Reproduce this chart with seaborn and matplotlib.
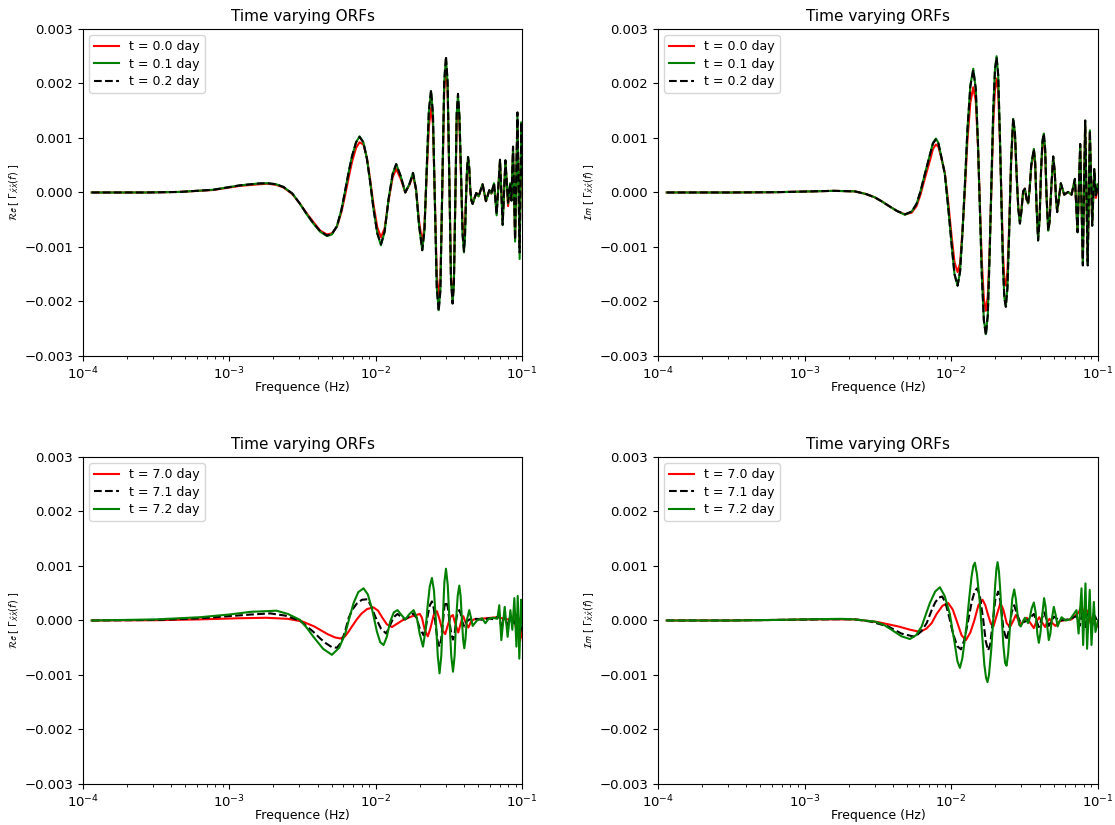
import numpy as np
import matplotlib
matplotlib.use("Agg")
import matplotlib.pyplot as plt
import seaborn as sns

# ---------------- data (log10 frequency, value in units of 1e-3) ----------------
# Top-left: Re, t = 0.0 / 0.1 / 0.2 day (shared frequency grid)
TL_LOGF = [-3.94, -3.56, -3.34, -3.11, -2.93, -2.80, -2.74, -2.68, -2.63, -2.57,
           -2.52, -2.47, -2.43, -2.38, -2.334, -2.30, -2.266, -2.235, -2.209, -2.185,
           -2.163, -2.135, -2.111, -2.085, -2.061, -2.04, -2.016, -1.99, -1.965, -1.94,
           -1.913, -1.885, -1.861, -1.83, -1.799, -1.77, -1.746, -1.725, -1.705, -1.683,
           -1.668, -1.653, -1.638, -1.623, -1.610, -1.597, -1.584, -1.571, -1.559, -1.546,
           -1.533, -1.521, -1.510, -1.498, -1.487, -1.476, -1.467, -1.457, -1.448, -1.439,
           -1.429, -1.418, -1.408, -1.398, -1.391, -1.384, -1.377, -1.370, -1.362, -1.355,
           -1.347, -1.339, -1.314, -1.298, -1.271, -1.248, -1.225, -1.211, -1.193, -1.175,
           -1.152, -1.134, -1.115, -1.097, -1.083, -1.074, -1.063, -1.049, -1.033, -1.018,
           -1.006, -1.0]
TL_T02 = [0.0, 0.0, 0.01, 0.05, 0.13, 0.165, 0.17, 0.15, 0.10, -0.02,
          -0.20, -0.40, -0.55, -0.71, -0.79, -0.76, -0.62, -0.32, 0.04, 0.38,
          0.66, 0.92, 1.02, 0.92, 0.62, 0.22, -0.30, -0.75, -0.95, -0.72,
          -0.12, 0.34, 0.52, 0.30, 0.0, 0.16, 0.36, 0.05, -0.60, -1.06,
          -0.70, 0.40, 1.50, 1.88, 1.45, -0.15, -1.75, -2.18, -1.80, 0.15,
          2.05, 2.50, 2.05, 0.25, -1.60, -2.04, -1.70, -0.10, 1.45, 1.81,
          1.40, 0.35, -0.75, -1.08, -0.80, -0.10, 0.45, 0.65, 0.45, 0.05,
          -0.15, -0.21, -0.01, -0.07, 0.15, -0.16, 0.04, -0.02, 0.17, -0.40,
          0.60, -0.59, 0.59, -0.18, 0.17, -0.15, 0.84, -0.87, 1.47, -1.10,
          1.29, 0.30]
TL_T01 = [0.0, 0.0, 0.01, 0.05, 0.13, 0.165, 0.17, 0.15, 0.10, -0.02,
          -0.20, -0.41, -0.56, -0.72, -0.80, -0.77, -0.62, -0.32, 0.04, 0.38,
          0.66, 0.92, 1.03, 0.92, 0.62, 0.22, -0.30, -0.75, -0.97, -0.72,
          -0.12, 0.34, 0.52, 0.30, 0.0, 0.16, 0.36, 0.05, -0.60, -1.06,
          -0.70, 0.40, 1.48, 1.86, 1.43, -0.15, -1.73, -2.16, -1.78, 0.15,
          2.02, 2.46, 2.02, 0.25, -1.58, -2.02, -1.70, -0.10, 1.43, 1.78,
          1.40, 0.35, -0.77, -1.10, -0.80, -0.10, 0.45, 0.65, 0.45, 0.05,
          -0.15, -0.21, -0.01, -0.07, 0.15, -0.16, 0.04, -0.02, 0.17, -0.42,
          0.60, -0.60, 0.59, -0.20, 0.17, -0.15, 0.84, -0.90, 1.42, -1.22,
          1.29, 0.30]
TL_T00 = [0.0, 0.0, 0.01, 0.045, 0.12, 0.15, 0.16, 0.14, 0.09, -0.03,
          -0.20, -0.39, -0.53, -0.70, -0.77, -0.75, -0.63, -0.36, -0.04, 0.28,
          0.56, 0.82, 0.92, 0.88, 0.64, 0.26, -0.22, -0.64, -0.82, -0.66,
          -0.15, 0.28, 0.43, 0.25, 0.0, 0.14, 0.32, 0.05, -0.52, -0.92,
          -0.62, 0.30, 1.20, 1.55, 1.25, -0.10, -1.50, -1.90, -1.60, 0.05,
          1.85, 2.30, 1.90, 0.25, -1.50, -1.95, -1.62, -0.12, 1.30, 1.65,
          1.25, 0.25, -0.55, -0.78, -0.62, -0.10, 0.40, 0.60, 0.42, 0.05,
          -0.15, -0.20, -0.01, -0.07, 0.15, -0.16, 0.04, -0.02, 0.15, -0.35,
          0.55, -0.50, 0.55, -0.25, 0.10, -0.10, 0.75, -0.80, 1.30, -1.00,
          1.10, 0.25]

# Top-right: Im, t = 0.0 / 0.1 / 0.2 day (shared frequency grid)
TR_LOGF = [-3.94, -3.5, -3.2, -2.95, -2.80, -2.657, -2.58, -2.521, -2.47, -2.430,
           -2.37, -2.316, -2.27, -2.237, -2.21, -2.180, -2.14, -2.125, -2.105, -2.088,
           -2.070, -2.044, -2.02, -1.998, -1.978, -1.957, -1.940, -1.924, -1.907, -1.890,
           -1.870, -1.850, -1.833, -1.818, -1.805, -1.792, -1.778, -1.764, -1.751, -1.738,
           -1.725, -1.714, -1.702, -1.691, -1.680, -1.668, -1.657, -1.647, -1.638, -1.628,
           -1.617, -1.605, -1.592, -1.578, -1.566, -1.554, -1.543, -1.532, -1.522, -1.510,
           -1.498, -1.487, -1.476, -1.466, -1.455, -1.437, -1.428, -1.418, -1.408, -1.398,
           -1.388, -1.378, -1.369, -1.360, -1.350, -1.339, -1.330, -1.318, -1.305, -1.295,
           -1.286, -1.278, -1.268, -1.253, -1.230, -1.203, -1.180, -1.157, -1.139, -1.121,
           -1.103, -1.087, -1.070, -1.055, -1.039, -1.025, -1.014, -1.0]
TR_T02 = [0.0, 0.0, 0.005, 0.02, 0.03, 0.02, -0.03, -0.09, -0.17, -0.24,
          -0.34, -0.40, -0.35, -0.21, 0.02, 0.34, 0.75, 0.90, 0.97, 0.90,
          0.68, 0.34, -0.30, -0.95, -1.50, -1.71, -1.45, -0.75, 0.15, 1.15,
          1.95, 2.25, 1.90, 0.90, -0.30, -1.50, -2.35, -2.62, -2.25, -1.10,
          0.34, 1.50, 2.25, 2.48, 2.15, 1.00, -0.30, -1.40, -1.95, -2.10,
          -1.75, -0.70, 0.60, 1.37, 1.10, 0.30, -0.30, -0.57, -0.35, 0.02,
          0.07, -0.12, -0.20, 0.05, 0.50, 0.80, 0.55, -0.30, -0.88, -0.50,
          0.40, 0.95, 1.08, 0.80, -0.10, -0.70, -0.55, 0.10, 0.66, 0.40,
          -0.10, -0.36, -0.15, 0.17, -0.04, 0.01, -0.04, 0.25, -0.73, 0.89,
          -1.34, 1.32, -1.34, 1.14, -0.61, 0.43, -0.05, 0.15]
TR_T01 = [0.0, 0.0, 0.005, 0.02, 0.03, 0.02, -0.03, -0.09, -0.17, -0.24,
          -0.34, -0.41, -0.35, -0.21, 0.02, 0.34, 0.75, 0.91, 0.99, 0.91,
          0.68, 0.34, -0.30, -0.95, -1.50, -1.71, -1.45, -0.75, 0.15, 1.15,
          1.96, 2.27, 1.90, 0.90, -0.30, -1.50, -2.33, -2.60, -2.25, -1.10,
          0.34, 1.50, 2.27, 2.50, 2.15, 1.00, -0.30, -1.40, -1.93, -2.08,
          -1.75, -0.70, 0.60, 1.35, 1.10, 0.30, -0.30, -0.57, -0.35, 0.02,
          0.07, -0.12, -0.20, 0.05, 0.50, 0.80, 0.55, -0.30, -0.88, -0.50,
          0.40, 0.95, 1.08, 0.80, -0.10, -0.70, -0.55, 0.10, 0.66, 0.40,
          -0.10, -0.36, -0.15, 0.17, -0.04, 0.01, -0.04, 0.25, -0.73, 0.89,
          -1.32, 1.32, -1.32, 1.14, -0.61, 0.43, -0.05, 0.15]
TR_T00 = [0.0, 0.0, 0.005, 0.02, 0.03, 0.02, -0.03, -0.09, -0.17, -0.24,
          -0.34, -0.40, -0.37, -0.25, -0.04, 0.26, 0.64, 0.80, 0.88, 0.84,
          0.66, 0.36, -0.20, -0.80, -1.28, -1.46, -1.30, -0.72, 0.05, 0.95,
          1.65, 1.93, 1.68, 0.85, -0.20, -1.25, -1.95, -2.17, -1.90, -1.00,
          0.20, 1.25, 1.90, 2.09, 1.85, 0.90, -0.15, -1.15, -1.60, -1.71,
          -1.45, -0.60, 0.55, 1.30, 1.05, 0.30, -0.28, -0.52, -0.33, 0.02,
          0.07, -0.12, -0.20, 0.05, 0.47, 0.75, 0.52, -0.28, -0.80, -0.47,
          0.37, 0.88, 1.00, 0.75, -0.10, -0.65, -0.52, 0.08, 0.62, 0.38,
          -0.10, -0.33, -0.14, 0.15, -0.04, 0.01, -0.04, 0.22, -0.70, 0.85,
          -1.25, 1.25, -1.25, 1.05, -0.55, 0.40, -0.10, 0.10]

# Bottom-left: Re, t = 7.0 / 7.1 / 7.2 day
BL_LOGF_72 = [-3.94, -3.5, -3.2, -3.0, -2.85, -2.75, -2.68, -2.60, -2.517, -2.47,
              -2.426, -2.36, -2.300, -2.25, -2.209, -2.18, -2.152, -2.12, -2.084, -2.055,
              -2.027, -1.993, -1.97, -1.947, -1.925, -1.902, -1.877, -1.852, -1.825, -1.799,
              -1.77, -1.742, -1.72, -1.70, -1.678, -1.66, -1.647, -1.632, -1.617, -1.603,
              -1.59, -1.577, -1.565, -1.553, -1.543, -1.532, -1.521, -1.509, -1.497, -1.485,
              -1.473, -1.462, -1.452, -1.441, -1.430, -1.421, -1.413, -1.404, -1.396, -1.388,
              -1.379, -1.362, -1.35, -1.339, -1.309, -1.275, -1.252, -1.230, -1.20, -1.17,
              -1.157, -1.143, -1.120, -1.100, -1.081, -1.068, -1.054, -1.040, -1.031, -1.020,
              -1.008, -1.0]
BL_T72 = [0.0, 0.02, 0.06, 0.11, 0.16, 0.17, 0.18, 0.12, 0.01, -0.14,
          -0.30, -0.52, -0.63, -0.50, -0.24, 0.05, 0.32, 0.52, 0.59, 0.48,
          0.22, -0.20, -0.40, -0.45, -0.30, -0.02, 0.15, 0.19, 0.10, 0.02,
          0.12, 0.19, 0.05, -0.25, -0.48, -0.18, 0.25, 0.62, 0.78, 0.55,
          0.0, -0.65, -0.97, -0.65, 0.0, 0.70, 0.95, 0.65, 0.0, -0.65,
          -0.94, -0.65, 0.0, 0.45, 0.64, 0.45, 0.05, -0.35, -0.51, -0.35,
          0.0, 0.19, 0.05, -0.10, 0.0, 0.04, -0.05, 0.03, 0.05, 0.03,
          0.28, -0.36, 0.25, -0.30, 0.19, -0.17, 0.41, -0.48, 0.45, -0.70,
          0.38, -0.10]
BL_LOGF_71 = [-3.94, -3.5, -3.2, -3.0, -2.85, -2.72, -2.62, -2.52, -2.43, -2.38,
              -2.34, -2.30, -2.266, -2.235, -2.21, -2.185, -2.16, -2.13, -2.095, -2.057,
              -2.03, -2.004, -1.965, -1.929, -1.905, -1.878, -1.852, -1.825, -1.80, -1.77,
              -1.745, -1.722, -1.70, -1.674, -1.660, -1.645, -1.631, -1.617, -1.604, -1.591,
              -1.578, -1.565, -1.554, -1.543, -1.532, -1.521, -1.509, -1.497, -1.485, -1.473,
              -1.462, -1.452, -1.441, -1.430, -1.42, -1.41, -1.396, -1.38, -1.36, -1.31,
              -1.27, -1.23, -1.19, -1.157, -1.143, -1.120, -1.100, -1.081, -1.054, -1.031,
              -1.020, -1.008, -1.0]
BL_T71 = [0.0, 0.01, 0.04, 0.08, 0.11, 0.13, 0.09, 0.0, -0.20, -0.33,
          -0.42, -0.49, -0.50, -0.40, -0.20, 0.05, 0.20, 0.31, 0.38, 0.39,
          0.25, 0.07, -0.15, -0.24, -0.10, 0.06, 0.12, 0.06, 0.02, 0.08,
          0.13, 0.05, -0.15, -0.27, -0.15, 0.10, 0.28, 0.35, 0.22, -0.10,
          -0.38, -0.48, -0.35, -0.05, 0.25, 0.35, 0.25, -0.02, -0.25, -0.35,
          -0.25, 0.0, 0.15, 0.19, 0.12, -0.02, -0.11, -0.02, 0.02, 0.03,
          0.01, 0.04, 0.02, 0.10, -0.12, 0.10, -0.12, 0.08, -0.05, 0.12,
          -0.25, 0.0, -0.20]
BL_LOGF_70 = [-3.94, -3.5, -3.2, -2.95, -2.75, -2.6, -2.5, -2.42, -2.33, -2.28,
              -2.243, -2.21, -2.185, -2.163, -2.13, -2.10, -2.06, -2.016, -1.985, -1.96,
              -1.925, -1.890, -1.855, -1.82, -1.76, -1.70, -1.685, -1.665, -1.645, -1.628,
              -1.605, -1.583, -1.568, -1.545, -1.526, -1.51, -1.49, -1.474, -1.455, -1.437,
              -1.42, -1.403, -1.385, -1.368, -1.35, -1.33, -1.25, -1.17, -1.10, -1.06,
              -1.04, -1.025, -1.015, -1.005, -1.0]
BL_T70 = [0.0, 0.005, 0.02, 0.04, 0.05, 0.03, -0.02, -0.11, -0.25, -0.31,
          -0.33, -0.29, -0.20, -0.11, 0.02, 0.12, 0.21, 0.24, 0.18, 0.07,
          -0.07, -0.12, -0.06, 0.0, 0.07, 0.12, 0.05, -0.18, -0.29, -0.15,
          0.10, 0.17, 0.05, -0.18, -0.25, -0.10, 0.07, 0.10, -0.08, -0.22,
          -0.05, 0.08, -0.05, -0.13, -0.02, 0.02, 0.04, 0.06, 0.02, 0.04,
          -0.15, 0.05, -0.38, -0.20, -0.30]

# Bottom-right: Im, t = 7.0 / 7.1 / 7.2 day
BR_LOGF_72 = [-3.94, -3.5, -3.2, -2.9, -2.75, -2.657, -2.521, -2.46, -2.407, -2.34,
              -2.282, -2.24, -2.202, -2.175, -2.146, -2.11, -2.078, -2.045, -2.010, -1.975,
              -1.958, -1.941, -1.925, -1.910, -1.896, -1.878, -1.862, -1.850, -1.839, -1.825,
              -1.805, -1.790, -1.775, -1.763, -1.753, -1.743, -1.728, -1.714, -1.702, -1.692,
              -1.684, -1.675, -1.666, -1.657, -1.645, -1.633, -1.623, -1.612, -1.598, -1.584,
              -1.571, -1.560, -1.548, -1.537, -1.526, -1.512, -1.498, -1.487, -1.476, -1.465,
              -1.452, -1.437, -1.425, -1.413, -1.403, -1.393, -1.380, -1.367, -1.357, -1.346,
              -1.335, -1.325, -1.313, -1.301, -1.288, -1.275, -1.262, -1.248, -1.22, -1.19,
              -1.146, -1.132, -1.112, -1.101, -1.085, -1.074, -1.056, -1.044, -1.028, -1.017,
              -1.0]
BR_T72 = [0.0, 0.0, 0.01, 0.025, 0.03, 0.02, -0.02, -0.08, -0.17, -0.29,
          -0.34, -0.27, -0.11, 0.10, 0.32, 0.53, 0.61, 0.45, 0.12, -0.45,
          -0.75, -0.87, -0.70, -0.40, -0.10, 0.40, 0.80, 1.00, 1.06, 0.85,
          0.32, -0.25, -0.80, -1.05, -1.13, -1.00, -0.55, 0.01, 0.60, 0.95,
          1.07, 0.90, 0.55, 0.10, -0.45, -0.78, -0.83, -0.60, -0.05, 0.40,
          0.57, 0.40, 0.10, -0.08, -0.11, -0.02, 0.05, 0.0, -0.05, 0.05,
          0.22, 0.33, 0.15, -0.25, -0.41, -0.25, 0.10, 0.41, 0.25, -0.10,
          -0.36, -0.25, 0.05, 0.25, 0.10, -0.11, -0.02, 0.06, 0.0, 0.02,
          0.19, -0.24, 0.59, -0.45, 0.68, -0.52, 0.56, -0.45, 0.34, -0.21,
          0.0]
BR_LOGF_71 = [-3.94, -3.5, -3.2, -2.9, -2.75, -2.657, -2.55, -2.430, -2.34, -2.248,
              -2.205, -2.168, -2.135, -2.11, -2.085, -2.062, -2.04, -2.015, -1.99, -1.96,
              -1.934, -1.91, -1.884, -1.860, -1.84, -1.823, -1.805, -1.782, -1.765, -1.749,
              -1.735, -1.718, -1.700, -1.680, -1.665, -1.645, -1.623, -1.605, -1.588, -1.571,
              -1.55, -1.526, -1.48, -1.437, -1.403, -1.367, -1.335, -1.301, -1.26, -1.2,
              -1.146, -1.125, -1.105, -1.085, -1.065, -1.04, -1.02, -1.0]
BR_T71 = [0.0, 0.0, 0.01, 0.02, 0.025, 0.02, -0.02, -0.11, -0.24, -0.30,
          -0.20, -0.05, 0.18, 0.33, 0.42, 0.44, 0.33, 0.07, -0.22, -0.47,
          -0.53, -0.35, 0.01, 0.35, 0.54, 0.59, 0.45, 0.01, -0.38, -0.55,
          -0.45, -0.05, 0.38, 0.53, 0.35, -0.15, -0.36, -0.15, 0.15, 0.28,
          0.10, -0.05, 0.0, 0.12, -0.12, 0.15, -0.10, 0.07, 0.0, 0.02,
          0.08, -0.10, 0.15, -0.12, 0.12, -0.10, 0.08, -0.05]
BR_LOGF_70 = [-3.94, -3.5, -3.2, -2.9, -2.657, -2.50, -2.36, -2.28, -2.214, -2.17,
              -2.134, -2.10, -2.06, -2.021, -1.99, -1.964, -1.93, -1.900, -1.87, -1.843,
              -1.815, -1.787, -1.768, -1.749, -1.73, -1.711, -1.69, -1.665, -1.645, -1.622,
              -1.60, -1.58, -1.56, -1.545, -1.525, -1.505, -1.485, -1.46, -1.437, -1.42,
              -1.40, -1.38, -1.36, -1.345, -1.33, -1.31, -1.29, -1.265, -1.24, -1.18,
              -1.15, -1.13, -1.112, -1.09, -1.07, -1.05, -1.03, -1.015, -1.0]
BR_T70 = [0.0, 0.0, 0.01, 0.02, 0.02, -0.03, -0.11, -0.17, -0.21, -0.15,
          -0.05, 0.12, 0.27, 0.32, 0.20, 0.0, -0.27, -0.36, -0.22, 0.0,
          0.28, 0.38, 0.28, 0.10, -0.06, -0.10, 0.10, 0.32, 0.20, -0.05,
          -0.12, -0.02, 0.10, 0.02, -0.08, 0.0, 0.05, -0.05, -0.14, -0.02,
          0.06, -0.04, -0.12, -0.02, 0.03, -0.05, -0.10, -0.02, 0.0, 0.02,
          0.10, 0.15, 0.28, 0.05, 0.18, -0.05, 0.12, -0.10, -0.11]

TITLE = "Time varying ORFs"
XLABEL = "Frequence (Hz)"
YLABEL_RE = r"$\mathcal{Re}\ [\ \Gamma_{\hat{X}\hat{X}}(f)\ ]$"
YLABEL_IM = r"$\mathcal{Im}\ [\ \Gamma_{\hat{X}\hat{X}}(f)\ ]$"
YTICKS = [-0.003, -0.002, -0.001, 0.0, 0.001, 0.002, 0.003]

# ---------------- plotting ----------------
fig = plt.figure(figsize=(11.15, 8.25), dpi=100)
rects = {
    "tl": [0.0744, 0.5685, 0.394, 0.3964],
    "tr": [0.5901, 0.5685, 0.3946, 0.3964],
    "bl": [0.0744, 0.0497, 0.394, 0.3964],
    "br": [0.5901, 0.0497, 0.3946, 0.3964],
}


def draw(ax, series, ylabel):
    for logf, vals, color, ls, lab in series:
        f = np.power(10.0, np.asarray(logf))
        v = np.asarray(vals) * 1e-3
        sns.lineplot(x=f, y=v, ax=ax, color=color, linestyle=ls, linewidth=1.5,
                     label=lab, estimator=None, sort=False)
    ax.set_xscale("log")
    ax.set_xlim(1e-4, 1e-1)
    ax.set_ylim(-0.003, 0.003)
    ax.set_yticks(YTICKS)
    ax.set_title(TITLE, fontsize=11)
    ax.set_xlabel(XLABEL, fontsize=9, labelpad=-1)
    ax.set_ylabel(ylabel, fontsize=7)
    ax.yaxis.set_label_coords(-0.14, 0.5)
    ax.tick_params(labelsize=9.5)
    ax.legend(loc="upper left", fontsize=9, labelspacing=0.35)


ax = fig.add_axes(rects["tl"])
draw(ax, [(TL_LOGF, TL_T00, "red", "-", "t = 0.0 day"),
          (TL_LOGF, TL_T01, "green", "-", "t = 0.1 day"),
          (TL_LOGF, TL_T02, "black", "--", "t = 0.2 day")], YLABEL_RE)

ax = fig.add_axes(rects["tr"])
draw(ax, [(TR_LOGF, TR_T00, "red", "-", "t = 0.0 day"),
          (TR_LOGF, TR_T01, "green", "-", "t = 0.1 day"),
          (TR_LOGF, TR_T02, "black", "--", "t = 0.2 day")], YLABEL_IM)

ax = fig.add_axes(rects["bl"])
draw(ax, [(BL_LOGF_70, BL_T70, "red", "-", "t = 7.0 day"),
          (BL_LOGF_71, BL_T71, "black", "--", "t = 7.1 day"),
          (BL_LOGF_72, BL_T72, "green", "-", "t = 7.2 day")], YLABEL_RE)

ax = fig.add_axes(rects["br"])
draw(ax, [(BR_LOGF_70, BR_T70, "red", "-", "t = 7.0 day"),
          (BR_LOGF_71, BR_T71, "black", "--", "t = 7.1 day"),
          (BR_LOGF_72, BR_T72, "green", "-", "t = 7.2 day")], YLABEL_IM)

fig.savefig("out.png", dpi=100)
